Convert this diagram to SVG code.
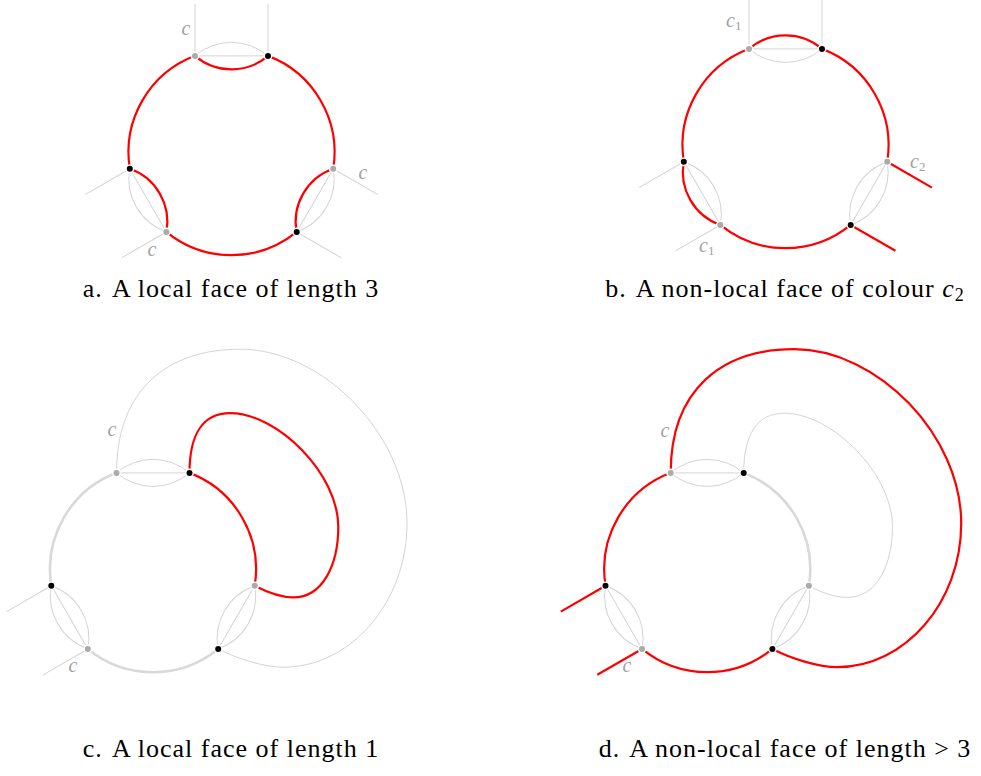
<svg xmlns="http://www.w3.org/2000/svg" xmlns:xlink="http://www.w3.org/1999/xlink" width="981" height="776" viewBox="0 0 981 776">
<style>
.thin{fill:none;stroke:#d4d4d4;stroke-width:1}
.thick{fill:none;stroke:#d9d9d9;stroke-width:2.6}
.red{fill:none;stroke:#ff0000;stroke-width:2.2}
.dk{fill:#000;stroke:#fff;stroke-width:1.4}
.lt{fill:#aaaaaa;stroke:#fff;stroke-width:1.4}
.lbl{font-family:"Liberation Serif",serif;font-style:italic;font-size:20px;fill:#a0a0a0}
.sub{font-style:normal;font-size:13px}
.cap{font-family:"Liberation Serif",serif;font-size:26px;fill:#000;letter-spacing:1px}
</style>
<defs>
<path id="chord" d="M-36.5,-96.3H36.5"/>
<path id="outer" d="M-36.5,-96.3A56,56 0 0 1 36.5,-96.3"/>
<path id="inner" d="M-36.5,-96.3A56,56 0 0 0 36.5,-96.3"/>
<path id="ext" d="M-36.5,-96.3V-148M36.5,-96.3V-148"/>
<path id="arc" d="M36.5,-96.3A103,103 0 0 1 101.7,16.6"/>
<path id="big" d="M-36.5,-96.3C-36.5,-180 15,-220 87,-220C171,-220 254,-133 254,-46C254,33 198,98 130,98C112,98 85,90 65.2,79.8"/>
<path id="small" d="M36.5,-96.3C36.5,-135 50,-156 77,-156C125,-156 185.3,-95 185.3,-42.5C185.3,-5 170,28.2 140.3,28.2C125,28.2 112,22 101.7,16.6"/>
</defs>

<!-- Panel a -->
<g id="panel-a" transform="translate(231.5,152.2)">
<g id="a-connectors">
<use href="#chord" class="thin"/><use href="#outer" class="thin"/><use href="#ext" class="thin"/>
<use href="#chord" class="thin" transform="rotate(120)"/><use href="#outer" class="thin" transform="rotate(120)"/><use href="#ext" class="thin" transform="rotate(120)"/>
<use href="#chord" class="thin" transform="rotate(240)"/><use href="#outer" class="thin" transform="rotate(240)"/><use href="#ext" class="thin" transform="rotate(240)"/>
<use href="#inner" class="red"/><use href="#inner" class="red" transform="rotate(120)"/><use href="#inner" class="red" transform="rotate(240)"/>
<use href="#arc" class="red"/><use href="#arc" class="red" transform="rotate(120)"/><use href="#arc" class="red" transform="rotate(240)"/>
</g>
<g id="a-g1"><circle class="lt" cx="-36.5" cy="-96.3" r="3.7"/></g>
<g id="a-b1"><circle class="dk" cx="36.5" cy="-96.3" r="3.7"/></g>
<g id="a-g2"><circle class="lt" cx="101.7" cy="16.6" r="3.7"/></g>
<g id="a-b2"><circle class="dk" cx="65.2" cy="79.8" r="3.7"/></g>
<g id="a-g3"><circle class="lt" cx="-65.2" cy="79.8" r="3.7"/></g>
<g id="a-b3"><circle class="dk" cx="-101.7" cy="16.6" r="3.7"/></g>
</g>
<text class="lbl" x="186" y="35" text-anchor="middle">c</text>
<text class="lbl" x="363" y="179" text-anchor="middle">c</text>
<text class="lbl" x="152" y="256" text-anchor="middle">c</text>
<text class="cap" x="231" y="297" text-anchor="middle">a.<tspan dx="9">A local face of length 3</tspan></text>

<!-- Panel b -->
<g id="panel-b" transform="translate(785.5,145.2)">
<g id="b-connectors">
<use href="#chord" class="thin"/><use href="#inner" class="thin"/><use href="#ext" class="thin"/>
<use href="#chord" class="thin" transform="rotate(120)"/><use href="#outer" class="thin" transform="rotate(120)"/><use href="#inner" class="thin" transform="rotate(120)"/>
<use href="#chord" class="thin" transform="rotate(240)"/><use href="#inner" class="thin" transform="rotate(240)"/><use href="#ext" class="thin" transform="rotate(240)"/>
<use href="#outer" class="red"/><use href="#outer" class="red" transform="rotate(240)"/>
<use href="#ext" class="red" transform="rotate(120)"/>
<use href="#arc" class="red"/><use href="#arc" class="red" transform="rotate(120)"/><use href="#arc" class="red" transform="rotate(240)"/>
</g>
<g id="b-g1"><circle class="lt" cx="-36.5" cy="-96.3" r="3.7"/></g>
<g id="b-b1"><circle class="dk" cx="36.5" cy="-96.3" r="3.7"/></g>
<g id="b-g2"><circle class="lt" cx="101.7" cy="16.6" r="3.7"/></g>
<g id="b-b2"><circle class="dk" cx="65.2" cy="79.8" r="3.7"/></g>
<g id="b-g3"><circle class="lt" cx="-65.2" cy="79.8" r="3.7"/></g>
<g id="b-b3"><circle class="dk" cx="-101.7" cy="16.6" r="3.7"/></g>
</g>
<text class="lbl" x="726" y="27">c<tspan class="sub" dy="3">1</tspan></text>
<text class="lbl" x="910" y="168">c<tspan class="sub" dy="3">2</tspan></text>
<text class="lbl" x="699" y="252">c<tspan class="sub" dy="3">1</tspan></text>
<text class="cap" x="785" y="297" text-anchor="middle">b.<tspan dx="9">A non-local face of colour </tspan><tspan font-style="italic">c</tspan><tspan font-size="18px" dy="4">2</tspan></text>

<!-- Panel c -->
<g id="panel-c" transform="translate(153,569.2)">
<g id="c-connectors">
<use href="#chord" class="thin"/><use href="#outer" class="thin"/><use href="#inner" class="thin"/>
<use href="#chord" class="thin" transform="rotate(120)"/><use href="#outer" class="thin" transform="rotate(120)"/><use href="#inner" class="thin" transform="rotate(120)"/>
<use href="#chord" class="thin" transform="rotate(240)"/><use href="#outer" class="thin" transform="rotate(240)"/><use href="#inner" class="thin" transform="rotate(240)"/>
<use href="#ext" class="thin" transform="rotate(240)"/>
<use href="#big" class="thin"/>
<use href="#arc" class="thick" transform="rotate(120)"/><use href="#arc" class="thick" transform="rotate(240)"/>
<use href="#arc" class="red"/>
<use href="#small" class="red"/>
</g>
<g id="c-g1"><circle class="lt" cx="-36.5" cy="-96.3" r="3.7"/></g>
<g id="c-b1"><circle class="dk" cx="36.5" cy="-96.3" r="3.7"/></g>
<g id="c-g2"><circle class="lt" cx="101.7" cy="16.6" r="3.7"/></g>
<g id="c-b2"><circle class="dk" cx="65.2" cy="79.8" r="3.7"/></g>
<g id="c-g3"><circle class="lt" cx="-65.2" cy="79.8" r="3.7"/></g>
<g id="c-b3"><circle class="dk" cx="-101.7" cy="16.6" r="3.7"/></g>
</g>
<text class="lbl" x="112" y="436" text-anchor="middle">c</text>
<text class="lbl" x="73" y="672" text-anchor="middle">c</text>
<text class="cap" x="231" y="757" text-anchor="middle">c.<tspan dx="9">A local face of length 1</tspan></text>

<!-- Panel d -->
<g id="panel-d" transform="translate(707.2,569.2)">
<g id="d-connectors">
<use href="#chord" class="thin"/><use href="#outer" class="thin"/><use href="#inner" class="thin"/>
<use href="#chord" class="thin" transform="rotate(120)"/><use href="#outer" class="thin" transform="rotate(120)"/><use href="#inner" class="thin" transform="rotate(120)"/>
<use href="#chord" class="thin" transform="rotate(240)"/><use href="#outer" class="thin" transform="rotate(240)"/><use href="#inner" class="thin" transform="rotate(240)"/>
<use href="#small" class="thin"/>
<use href="#arc" class="thick"/>
<use href="#arc" class="red" transform="rotate(120)"/><use href="#arc" class="red" transform="rotate(240)"/>
<use href="#ext" class="red" transform="rotate(240)"/>
<use href="#big" class="red"/>
</g>
<g id="d-g1"><circle class="lt" cx="-36.5" cy="-96.3" r="3.7"/></g>
<g id="d-b1"><circle class="dk" cx="36.5" cy="-96.3" r="3.7"/></g>
<g id="d-g2"><circle class="lt" cx="101.7" cy="16.6" r="3.7"/></g>
<g id="d-b2"><circle class="dk" cx="65.2" cy="79.8" r="3.7"/></g>
<g id="d-g3"><circle class="lt" cx="-65.2" cy="79.8" r="3.7"/></g>
<g id="d-b3"><circle class="dk" cx="-101.7" cy="16.6" r="3.7"/></g>
</g>
<text class="lbl" x="665" y="437" text-anchor="middle">c</text>
<text class="lbl" x="627" y="672" text-anchor="middle">c</text>
<text class="cap" x="785" y="757" text-anchor="middle">d.<tspan dx="9">A non-local face of length &gt; 3</tspan></text>
</svg>
